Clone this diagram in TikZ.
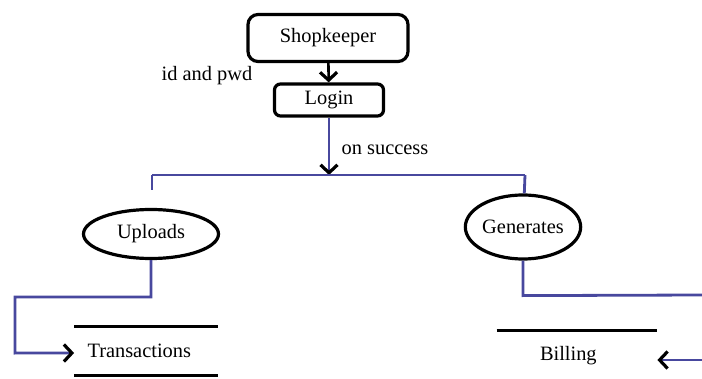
\documentclass[tikz,border=0pt]{standalone}
\usepackage{fontspec}
\setmainfont{Liberation Serif}
\usepackage{tikz}
\usetikzlibrary{positioning,calc}
\usetikzlibrary{arrows.meta,shapes.geometric}
\definecolor{FlowBlue}{RGB}{72,72,158}
\tikzset{
	barb/.tip={Straight Barb[color=black,length=4pt,width=8.5pt,line width=1.6pt]},
	actor/.style={draw=black,line width=1.6pt,rounded corners=5pt,inner sep=0pt,font=\fontsize{10.2}{12}\selectfont},
	proc/.style={ellipse,draw=black,line width=1.6pt,inner sep=0pt,font=\fontsize{10.2}{12}\selectfont},
	flow/.style={draw=FlowBlue,line width=1.4pt},
	store/.style={inner sep=0pt,font=\fontsize{10.2}{12}\selectfont,align=left},
	note/.style={font=\fontsize{10.2}{12}\selectfont},
}
\begin{document}
\begin{tikzpicture}[x=0.5pt,y=-0.5pt]
			\useasboundingbox (0,0) rectangle (702,379);
			% top part
			\node[actor,minimum width=80pt,minimum height=23.5pt] (shop) at (328,38) {Shopkeeper};
			\node[actor,rounded corners=3pt,minimum width=54.5pt,minimum height=16pt] (login) at (329,100) {Login};
			\node[note] (idpwd) at (207,76) {id and pwd};
			\node[note] (succ) at (385,150) {on success};
			\draw[line width=1.3pt,-barb] (shop) -- (login);
			% branch bar
			\coordinate (mid) at (329,175);
			\coordinate (bl) at (152,175);
			\coordinate (br) at (525,175);
			\draw[flow,-barb] (login) -- (mid);
			\draw[flow] (bl) -- (br);
			% processes
			\node[proc,minimum width=67.5pt,minimum height=24.5pt] (up) at (151,234) {Uploads};
			\node[proc,minimum width=57pt,minimum height=32pt] (gen) at (523,227) {Generates};
			\draw[flow,shorten >=9pt] (bl) -- (bl |- up.north);
			\draw[flow] (br) -- (gen);
			% data stores
			\node[store,minimum width=71.5pt,minimum height=24pt,text width=58.5pt,inner xsep=6.5pt] (trans) at (146,351) {Transactions};
			\draw[line width=1.5pt] (trans.north west) -- (trans.north east);
			\draw[line width=1.5pt] (trans.south west) -- (trans.south east);
			\node[store,minimum width=80pt,minimum height=25pt,text width=37pt,inner xsep=21.5pt] (bill) at (577,356) {Billing};
			\draw[line width=1.5pt] (bill.north west) -- (bill.north east);
			% outputs
			\coordinate (outa) at (702,295);
			\coordinate (outb) at (702,360);
			\draw[flow,-barb] (up.south) -- ++(0,37) -- ++(-136,0) -- ++(0,56) -- (trans.west |- 0,353);
			\draw[flow] (gen.south) -- ++(0,35) -- (outa);
			\draw[flow,-barb] (outb) -- (bill.east |- outb);
		\end{tikzpicture}
\end{document}
